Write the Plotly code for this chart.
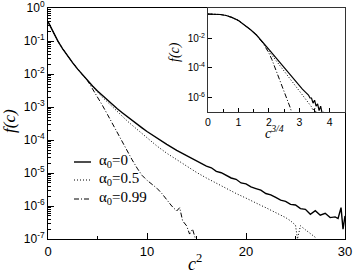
import plotly.graph_objects as go

# ---------------- data ----------------
# main panel: x = c^2, values are log10 f(c)
c2_a0 = [0, 0.5, 1, 1.5, 2, 2.5, 3, 3.5, 4, 4.5, 5, 5.5, 6, 6.5, 7, 7.5, 8, 8.5, 9, 9.5, 10,
         11, 12, 13, 14,
         14.5, 15, 15.5, 16, 16.5, 17, 17.5, 18, 18.5, 19, 19.5, 20, 20.5, 21, 21.5, 22, 22.5,
         23, 23.5, 24, 24.5, 25, 25.5, 26, 26.5, 27, 27.5, 28, 28.5, 29,
         29.3, 29.6, 29.8, 30]
logf_a0 = [-0.41, -0.72, -1.0, -1.24, -1.46, -1.66, -1.85, -2.03, -2.2, -2.36, -2.51, -2.65, -2.79,
           -2.92, -3.05, -3.17, -3.29, -3.41, -3.52, -3.63, -3.74,
           -3.94, -4.13, -4.31, -4.47,
           -4.57, -4.63, -4.71, -4.79, -4.84, -4.95, -4.99, -5.06, -5.15, -5.19, -5.30, -5.33,
           -5.42, -5.47, -5.52, -5.62, -5.66, -5.74, -5.82, -5.86, -5.95, -5.97, -6.08, -6.10,
           -6.25, -6.14, -6.28, -6.22, -6.35, -6.33,
           -6.38, -6.05, -6.7, -6.3]

c2_a05 = [0, 0.5, 1, 1.5, 2, 2.5, 3, 3.5, 4, 4.5, 5, 5.5, 6, 6.5, 7, 7.5, 8, 8.5, 9, 9.5, 10,
          11, 12, 13, 14, 15, 16, 17, 18, 19, 20,
          20.5, 21, 21.5, 22, 22.5, 23, 23.5, 24, 24.5, 25,
          25.2, 25.5, 26, 26.5, 27, 27.5]
logf_a05 = [-0.41, -0.72, -1.0, -1.24, -1.46, -1.66, -1.85, -2.03, -2.2, -2.38, -2.54, -2.70, -2.85,
            -3.0, -3.14, -3.28, -3.42, -3.55, -3.68, -3.81, -3.94,
            -4.18, -4.40, -4.60, -4.80, -4.98, -5.15, -5.31, -5.47, -5.62, -5.76,
            -5.84, -5.90, -5.98, -6.05, -6.12, -6.20, -6.27, -6.35, -6.45, -6.58,
            -7.0, -6.6, -6.72, -6.85, -6.95, -7.2]

c2_a099 = [0, 0.5, 1, 1.5, 2, 2.5, 3, 3.5, 4,
           4.5, 5, 5.5, 6, 6.5, 7, 7.5, 8, 8.5, 9, 9.5, 10,
           10.5, 11, 11.5, 12, 12.5, 13, 13.3, 13.6, 14, 14.3, 14.6, 15]
logf_a099 = [-0.41, -0.72, -1.0, -1.24, -1.46, -1.66, -1.85, -2.03, -2.2,
             -2.45, -2.68, -2.95, -3.22, -3.5, -3.8, -4.07, -4.33, -4.6, -4.85, -5.07, -5.22,
             -5.33, -5.46, -5.62, -5.82, -6.0, -6.15, -6.05, -6.45, -6.6, -6.85, -6.7, -7.1]

# inset: x = c^(3/4)
u_a0 = [0, 0.2, 0.4, 0.6, 0.8, 1.0, 1.2, 1.4, 1.6, 1.8, 2.0, 2.2, 2.4, 2.6, 2.8, 3.0,
        3.1, 3.2, 3.3, 3.35, 3.4, 3.45, 3.5, 3.55, 3.6, 3.65, 3.7, 3.75, 3.8]
ilogf_a0 = [-0.36, -0.36, -0.39, -0.46, -0.6, -0.8, -1.08, -1.42, -1.8, -2.25, -2.75, -3.25,
            -3.75, -4.25, -4.73, -5.2,
            -5.45, -5.65, -5.85, -6.05, -6.05, -6.4, -6.2, -6.6, -6.45, -6.9, -6.6, -7.1, -7.0]

u_a05 = [0, 0.2, 0.4, 0.6, 0.8, 1.0, 1.2, 1.4, 1.6, 1.8,
         1.9, 2.0, 2.2, 2.4, 2.6, 2.8, 3.0, 3.2, 3.3, 3.4, 3.45, 3.5, 3.55, 3.6]
ilogf_a05 = [-0.36, -0.36, -0.39, -0.46, -0.6, -0.8, -1.08, -1.42, -1.8, -2.25,
             -2.55, -2.88, -3.42, -3.97, -4.52, -5.07, -5.62, -6.15, -6.4, -6.65, -6.9, -6.7,
             -7.05, -7.2]

u_a099 = [0, 0.2, 0.4, 0.6, 0.8, 1.0, 1.2, 1.4, 1.6,
          1.7, 1.8, 1.9, 2.0, 2.1, 2.2, 2.3, 2.4, 2.5, 2.6, 2.65, 2.7, 2.76]
ilogf_a099 = [-0.36, -0.36, -0.39, -0.46, -0.6, -0.8, -1.08, -1.42, -1.8,
              -2.05, -2.32, -2.65, -3.0, -3.45, -3.98, -4.55, -5.1, -5.65, -6.15, -6.35, -6.7,
              -7.1]

series_names = ["α<sub>0</sub>=0", "α<sub>0</sub>=0.5", "α<sub>0</sub>=0.99"]

main_yticks = [0, -1, -2, -3, -4, -5, -6, -7]
main_xticks = [0, 10, 20, 30]
inset_xticks = [0, 1, 2, 3, 4]
inset_yticks = [-2, -4, -6]

# ---------------- figure ----------------
W, H = 354, 273
ML, MR, MT, MB = 48, 9, 8, 34
PW, PH = W - ML - MR, H - MT - MB

SANS = "Liberation Sans, Arial, sans-serif"
SERIF = "Liberation Serif, Times New Roman, serif"

styles = [dict(color="black", width=1.4, dash="solid"),
          dict(color="black", width=1.0, dash="1px,2px"),
          dict(color="black", width=1.0, dash="5px,2px,1px,2px")]

fig = go.Figure()
main_sets = [(c2_a0, logf_a0), (c2_a05, logf_a05), (c2_a099, logf_a099)]
for (xs, ls), name, st in zip(main_sets, series_names, styles):
    fig.add_trace(go.Scatter(x=xs, y=[10 ** v for v in ls], mode="lines", name=name,
                             line=st, xaxis="x", yaxis="y", showlegend=False))

inset_sets = [(u_a0, ilogf_a0), (u_a05, ilogf_a05), (u_a099, ilogf_a099)]
for (xs, ls), name, st in zip(inset_sets, series_names, styles):
    st2 = dict(st)
    st2["width"] = min(st["width"], 1.2)
    fig.add_trace(go.Scatter(x=xs, y=[10 ** v for v in ls], mode="lines", name=name,
                             line=st2, xaxis="x2", yaxis="y2", showlegend=False))


def px_x(px):
    return (px - ML) / PW


def px_y(py):
    return (H - MB - py) / PH


common = dict(showgrid=False, zeroline=False, automargin=False, ticklabeloverflow="allow",
              tickcolor="black", ticks="inside", showline=True, linewidth=1, mirror=True)

fig.update_layout(
    width=W, height=H,
    margin=dict(l=ML, r=MR, t=MT, b=MB, autoexpand=False),
    paper_bgcolor="white", plot_bgcolor="white",
    showlegend=False,
    xaxis=dict(domain=[0, 1], range=[0, 30], tickvals=main_xticks,
               ticktext=[str(t) for t in main_xticks], ticklen=6,
               minor=dict(ticks="inside", ticklen=3, dtick=5, tickcolor="black"),
               linecolor="black",
               tickfont=dict(family=SANS, size=13, color="black"), **common),
    yaxis=dict(domain=[0, 1], type="log", range=[-7, 0.005],
               tickvals=[10 ** t for t in main_yticks],
               ticktext=["10<sup>%d</sup>" % t for t in main_yticks], ticklen=6,
               minor=dict(ticks="inside", ticklen=3, dtick="D1", tickcolor="black"),
               linecolor="black",
               tickfont=dict(family=SANS, size=12, color="black"), **common),
    xaxis2=dict(domain=[px_x(208), 1], anchor="y2", range=[0, 4.5], tickvals=inset_xticks,
                ticktext=[str(t) for t in inset_xticks], ticklen=4,
                minor=dict(ticks="inside", ticklen=3, dtick=0.5, tickcolor="black"),
                linecolor="#333",
                tickfont=dict(family=SANS, size=10.5, color="black"), **common),
    yaxis2=dict(domain=[px_y(112), 1], anchor="x2", type="log", range=[-7, 0.05],
                tickvals=[10 ** t for t in inset_yticks],
                ticktext=["10<sup>%d</sup>" % t for t in inset_yticks], ticklen=4,
                linecolor="#333",
                tickfont=dict(family=SANS, size=10, color="black"), **common),
)

# legend drawn as sample lines + labels (paper coordinates)
legend_rows_py = [162, 180, 199]
for name, st, py in zip(series_names, styles, legend_rows_py):
    fig.add_shape(type="line", xref="paper", yref="paper",
                  x0=px_x(74), x1=px_x(91), y0=px_y(py), y1=px_y(py),
                  line=dict(color="black", width=st["width"], dash=st["dash"]))
    fig.add_annotation(text=name, xref="paper", yref="paper", x=px_x(97), y=px_y(py - 1),
                       xanchor="left", yanchor="middle", showarrow=False,
                       font=dict(family=SERIF, size=15, color="black"))

fig.add_annotation(text="<i>f(c)</i>", xref="paper", yref="paper", x=px_x(9), y=px_y(121),
                   textangle=-90, showarrow=False, xanchor="center", yanchor="middle",
                   font=dict(family=SERIF, size=17, color="black"))
fig.add_annotation(text="<i>c</i><sup>2</sup>", xref="paper", yref="paper", x=px_x(195),
                   y=px_y(262), xanchor="center", yanchor="middle", showarrow=False,
                   font=dict(family=SERIF, size=18, color="black"))
fig.add_annotation(text="<i>f(c)</i>", xref="paper", yref="paper", x=px_x(175), y=px_y(52),
                   textangle=-90, showarrow=False, xanchor="center", yanchor="middle",
                   font=dict(family=SERIF, size=14, color="black"))
fig.add_annotation(text="<i>c</i><sup><i>3/4</i></sup>", xref="paper", yref="paper",
                   x=px_x(274), y=px_y(132), xanchor="center", yanchor="middle",
                   showarrow=False,
                   font=dict(family=SERIF, size=14, color="black"))

fig.write_html("out.html", config={"displayModeBar": False},
               post_script="document.body.style.margin='0';document.body.style.overflow='hidden';")
